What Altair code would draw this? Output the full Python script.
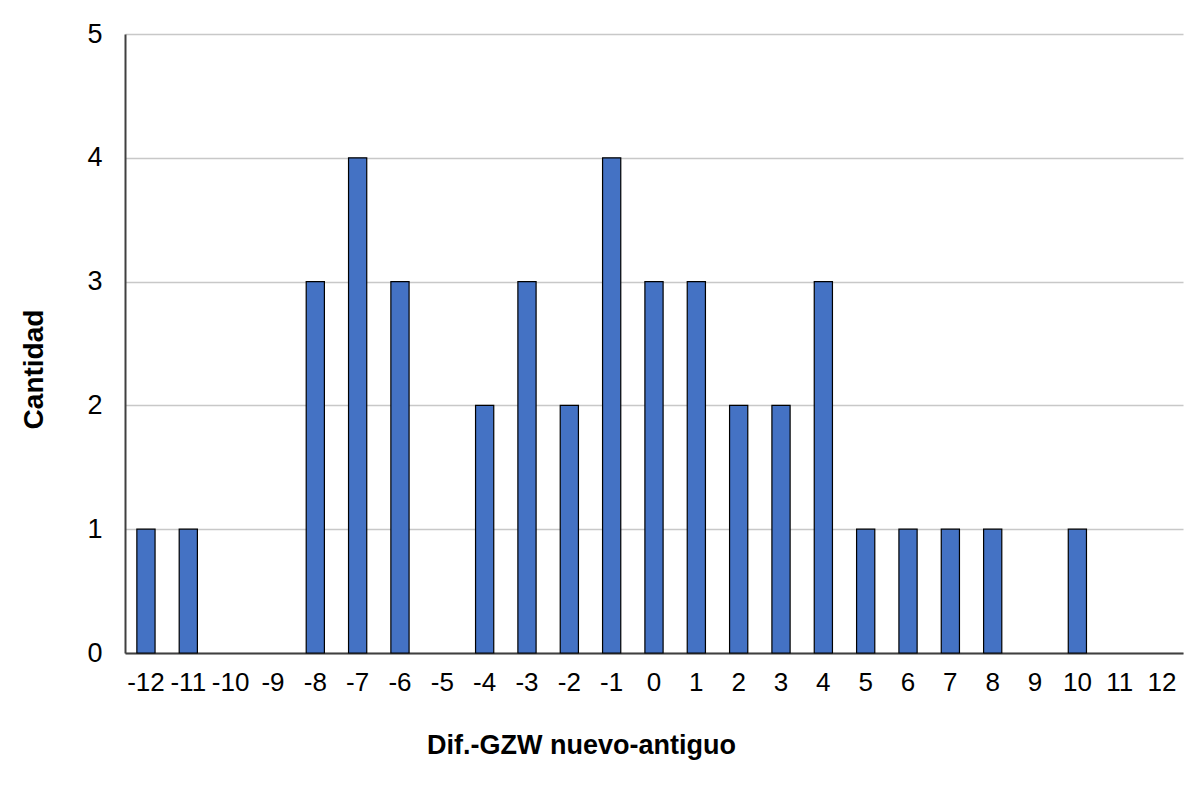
import altair as alt
import pandas as pd

categories = [-12, -11, -10, -9, -8, -7, -6, -5, -4, -3, -2, -1, 0, 1, 2, 3, 4, 5, 6, 7, 8, 9, 10, 11, 12]
counts = [1, 1, 0, 0, 3, 4, 3, 0, 2, 3, 2, 4, 3, 3, 2, 2, 3, 1, 1, 1, 1, 0, 1, 0, 0]

df = pd.DataFrame({"dif": [str(c) for c in categories], "cantidad": counts})
order = [str(c) for c in categories]

chart = alt.Chart(df).mark_bar(
    color="#4472C4", stroke="#000000"
).encode(
    x=alt.X("dif:N", sort=order,
            scale=alt.Scale(paddingInner=0.57, paddingOuter=0.28),
            axis=alt.Axis(title="Dif.-GZW nuevo-antiguo", labelAngle=0,
                          labelFontSize=26, labelPadding=16, ticks=False,
                          domainColor="#404040", domainWidth=2,
                          titleFontSize=27, titleFontWeight="bold",
                          titleX=456, titleY=100, titleBaseline="alphabetic",
                          titleAlign="center")),
    y=alt.Y("cantidad:Q",
            scale=alt.Scale(domain=[0, 5], nice=False),
            axis=alt.Axis(title="Cantidad", values=[0, 1, 2, 3, 4, 5], format="d",
                          labelFontSize=27, labelPadding=23, ticks=False,
                          domainColor="#404040", domainWidth=2,
                          gridColor="#c8c8c8", gridWidth=1.5,
                          titleFontSize=28, titleFontWeight="bold",
                          titleX=-91, titleY=335, titleAlign="center",
                          titleBaseline="middle")),
    strokeWidth=alt.condition("datum.cantidad > 0", alt.value(1.2), alt.value(0))
).properties(
    width=1058, height=619,
    padding={"left": 125, "top": 34, "right": 17, "bottom": 147},
    autosize="none"
).configure_axis(
    labelFont="Liberation Sans", titleFont="Liberation Sans",
    labelColor="#000000", titleColor="#000000"
).configure_view(stroke=None)

chart.save("out.html", embed_options={"renderer": "svg", "actions": False})
